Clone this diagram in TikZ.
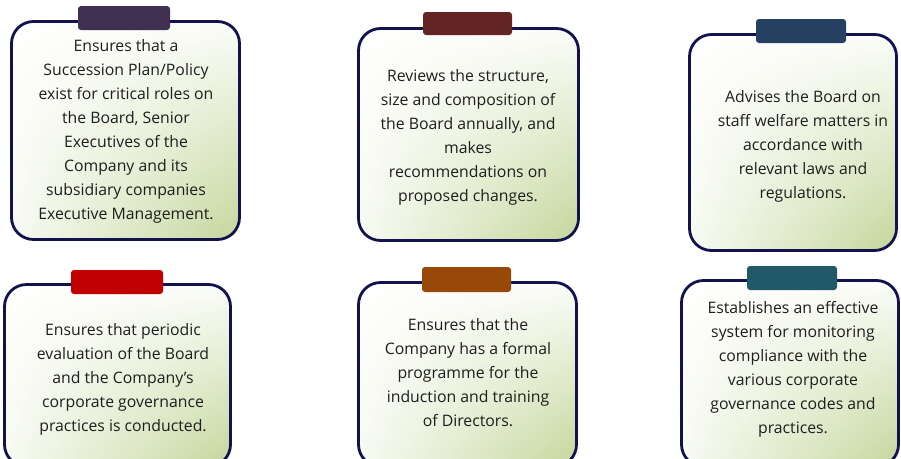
\documentclass[tikz,border=0pt]{standalone}
\usepackage{fontspec}
\usetikzlibrary{shadings}
\setmainfont{Open Sans}
\definecolor{edge}{RGB}{18,18,78}
\definecolor{greenend}{RGB}{196,214,155}
\definecolor{tabA}{HTML}{403152}
\definecolor{tabB}{HTML}{632523}
\definecolor{tabC}{HTML}{254061}
\definecolor{tabD}{HTML}{C00000}
\definecolor{tabE}{HTML}{984807}
\definecolor{tabF}{HTML}{215968}
\definecolor{txt}{HTML}{1E1E1E}
\begin{document}
\begin{tikzpicture}[x=1pt,y=-1pt,
  card/.style={draw=edge, line width=2.8pt, rounded corners=22pt, inner sep=0pt,
    upper left=white, upper right=white!93!greenend, lower left=white!88!greenend,
    lower right=greenend},
  tab/.style={rounded corners=3pt, inner sep=0pt, minimum width=90pt, minimum height=24pt},
  cardtext/.style={text=txt, align=center, inner sep=0pt,
    font=\fontsize{15.8}{24}\selectfont}
]
\useasboundingbox (0,0) rectangle (901,458);

% cards
\node[card, minimum width=228pt, minimum height=218pt] (b1) at (125.5,130.5) {};
\node[card, minimum width=220pt, minimum height=212pt] (b2) at (468.5,134.5) {};
\node[card, minimum width=207pt, minimum height=216pt] (b3) at (793,142.5) {};
\node[card, minimum width=226pt, minimum height=182pt] (b4) at (117.5,375.5) {};
\node[card, minimum width=218pt, minimum height=184pt] (b5) at (467.5,374.5) {};
\node[card, minimum width=217pt, minimum height=186pt] (b6) at (790,373.5) {};

% tabs
\node[tab, fill=tabA, minimum width=92pt] (t1) at (124,18) {};
\node[tab, fill=tabB, minimum width=89pt, minimum height=23pt] (t2) at (467.5,23.5) {};
\node[tab, fill=tabC] (t3) at (801,31) {};
\node[tab, fill=tabD, minimum width=92pt] (t4) at (117,282) {};
\node[tab, fill=tabE, minimum width=89pt, minimum height=25pt] (t5) at (466.5,279.5) {};
\node[tab, fill=tabF] (t6) at (792,278) {};

% texts
\node[cardtext] (l1) at (126,131.5) {Ensures that a\\Succession Plan/Policy\\exist for critical roles on\\the Board, Senior\\Executives of the\\Company and its\\subsidiary companies\\Executive Management.};
\node[cardtext] (l2) at (468,137) {Reviews the structure,\\size and composition of\\the Board annually, and\\makes\\recommendations on\\proposed changes.};
\node[cardtext] (l3) at (803,146.5) {Advises the Board on\\staff welfare matters in\\accordance with\\relevant laws and\\regulations.};
\node[cardtext] (l4) at (123,379) {Ensures that periodic\\evaluation of the Board\\and the Company’s\\corporate governance\\practices is conducted.};
\node[cardtext] (l5) at (468,372.5) {Ensures that the\\Company has a formal\\programme for the\\induction and training\\of Directors.};
\node[cardtext] (l6) at (793,369.5) {Establishes an effective\\system for monitoring\\compliance with the\\various corporate\\governance codes and\\practices.};
\end{tikzpicture}
\end{document}
